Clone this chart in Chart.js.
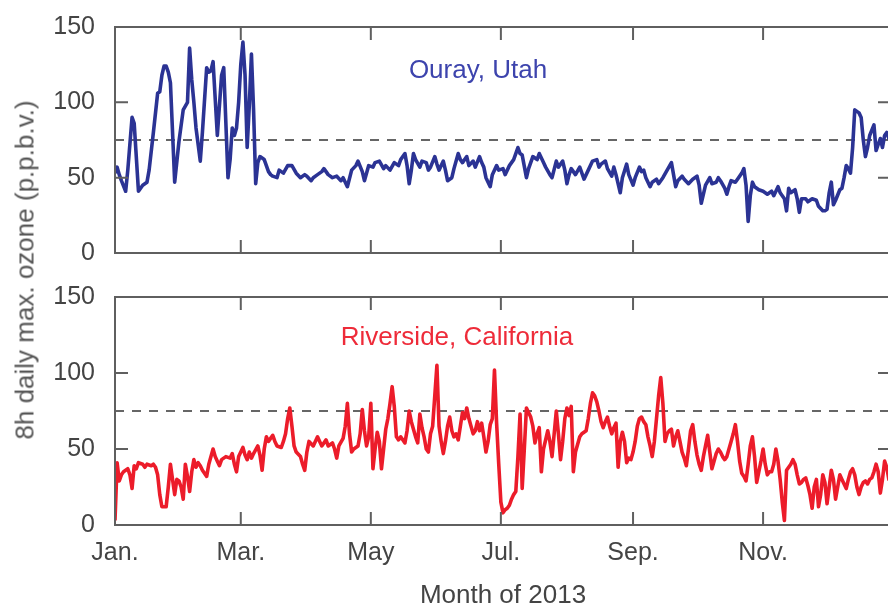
<!DOCTYPE html>
<html>
<head>
<meta charset="utf-8">
<title>8h daily max. ozone, 2013</title>
<script src="https://cdn.jsdelivr.net/npm/chart.js@4.4.1/dist/chart.umd.min.js"></script>
<style>
  html, body { margin: 0; padding: 0; background: #fff; overflow: hidden; width: 888px; height: 609px; }
  #wrap { position: relative; width: 888px; height: 609px; overflow: hidden; }
  canvas { position: absolute; left: 0; }
  #topPanel { top: 0; }
  #bottomPanel { top: 270px; }
  #ytitle {
    position: absolute; left: 25px; top: 270px;
    transform: translate(-50%, -50%) rotate(-90deg);
    white-space: nowrap; font: 26px "Liberation Sans", Arial, sans-serif; color: #555;
  }
</style>
</head>
<body>
<div id="wrap">
  <canvas id="topPanel" width="891" height="280"></canvas>
  <canvas id="bottomPanel" width="891" height="339"></canvas>
  <div id="ytitle">8h daily max. ozone (p.p.b.v.)</div>
</div>
<script>
// Day of year (2013) and 8-hour daily maximum ozone, p.p.b.v.
const ourayDays = [1,2,3,4,6,7,9,10,12,14,16,17,19,21,22,23,24,25,26,27,29,31,33,35,36,37,38,39,41,42,44,45,46,47,49,51,52,54,55,56,57,58,59,60,61,62,63,64,65,66,67,68,69,70,71,72,73,74,75,
  77,78,80,82,84,86,88,90,91,93,94,96,98,99,101,103,105,107,108,110,112,114,115,117,118,120,122,123,125,127,128,130,132,134,135,137,138,139,140,141,142,144,145,147,148,149,151,152,153,155,156,157,159,160,162,163,164,166,167,169,170,172,173,174,175,177,178,180,181,183,184,186,188,190,191,192,194,195,197,199,200,202,203,205,206,208,209,211,212,213,214,215,217,219,221,223,225,227,228,229,231,232,234,235,236,238,239,241,242,244,245,247,248,249,250,252,253,255,256,258,260,262,263,264,265,267,268,270,272,274,275,276,278,280,281,283,284,285,287,288,289,290,292,293,295,296,297,298,299,300,301,303,305,307,309,310,312,313,315,316,317,318,320,321,322,323,325,326,328,330,331,333,334,335,336,337,338,339,341,342,343,344,345,346,347,348,349,350,351,352,353,354,355,357,358,359,360,361,362,363,364,365];
const ourayPpb = [53,57,52,48,41,55,90,86,41,45,47,55,80,106,107,118,124,124,120,113,47,74,95,100,136,115,100,83,61,80,123,120,121,127,78,118,123,50,62,83,78,83,100,125,140,118,70,98,132,95,46,60,64,63,62,58,54,52,51,
  50,55,53,58,58,53,50,52,51,48,50,52,54,56,52,50,51,48,50,44,55,58,61,54,48,58,57,60,61,56,58,55,60,58,62,66,58,46,55,66,62,57,61,60,55,57,64,59,55,61,55,48,50,56,66,62,60,64,58,61,57,64,60,57,50,44,52,58,55,56,52,58,62,70,66,65,50,56,64,62,66,60,57,52,50,61,57,61,55,46,52,56,52,57,49,55,61,62,57,59,61,56,51,57,52,40,50,59,52,45,50,57,54,55,50,44,47,49,46,50,55,60,52,44,48,51,49,46,49,51,45,33,45,50,46,47,50,48,43,39,44,48,47,49,53,56,45,21,38,47,44,42,41,39,41,38,44,40,36,28,43,40,42,36,27,36,36,34,36,35,31,28,28,29,40,47,32,35,42,43,50,58,56,53,70,95,94,93,90,75,64,70,78,85,68,72,76,70,78,80,76,84];

const riversideDays = [1,2,3,4,5,6,7,8,9,10,11,12,14,15,16,18,19,20,21,22,23,25,26,27,28,29,30,31,32,33,34,35,36,37,38,39,40,41,42,44,45,47,48,49,50,51,53,55,56,57,58,59,61,62,63,64,65,66,68,69,70,71,72,73,75,76,77,79,80,81,82,83,84,85,86,88,89,90,91,92,94,96,97,98,100,101,103,104,105,106,108,109,110,111,112,113,115,116,117,118,119,120,121,122,123,124,125,126,127,128,129,130,131,132,133,134,135,137,138,139,140,141,142,143,144,145,146,147,148,149,150,151,152,153,154,155,156,157,158,159,160,161,162,163,164,165,166,167,168,169,170,171,172,173,174,175,176,177,178,179,180,181,182,183,184,185,186,187,188,189,190,191,192,193,194,195,196,197,198,199,200,201,202,204,205,206,207,208,209,210,211,212,213,214,215,216,217,219,220,222,223,224,225,226,227,228,229,230,231,232,233,234,235,236,237,238,239,240,241,242,243,244,245,246,247,248,249,250,251,252,253,254,255,256,257,258,259,260,261,262,263,264,265,266,267,268,269,270,271,272,273,274,275,276,277,278,279,280,281,282,283,284,285,286,287,288,289,290,291,292,293,294,295,296,297,298,299,300,301,302,303,304,305,306,307,308,309,310,311,312,313,314,315,316,317,318,319,320,321,322,323,324,325,326,327,328,329,330,331,332,333,334,335,336,337,338,339,340,341,342,343,344,345,346,347,348,349,350,351,352,353,354,355,356,357,358,359,360,361,362,363,364,365];
const riversidePpb = [3,41,29,33,35,36,37,33,24,39,37,41,40,38,40,39,40,38,33,20,12,12,25,40,30,20,30,29,25,17,40,32,22,35,43,38,41,39,36,32,40,50,45,42,39,43,45,44,47,40,35,45,51,46,43,48,44,47,52,46,36,50,58,55,59,55,52,51,55,60,70,77,65,52,48,45,40,36,48,55,52,58,55,52,56,52,54,50,44,52,57,65,80,60,48,50,52,60,76,62,52,58,80,37,50,61,55,37,50,63,70,80,91,78,58,56,58,54,62,75,68,63,58,54,73,64,58,50,48,60,65,85,105,65,55,47,55,65,71,62,58,60,56,65,74,70,77,70,65,60,62,68,62,67,58,48,55,66,70,102,67,40,15,8,10,11,13,17,20,22,45,73,24,50,77,74,71,65,54,60,64,35,50,62,55,45,60,75,60,43,55,70,77,72,78,35,48,58,60,62,70,80,87,85,81,75,68,64,68,71,65,60,64,67,38,55,61,55,41,44,43,48,55,65,70,71,68,66,58,52,45,55,70,85,97,80,55,60,62,63,52,58,62,55,48,44,39,50,62,66,55,46,40,36,45,52,59,48,37,42,47,50,48,45,43,45,50,55,60,66,55,42,34,32,29,40,52,58,45,28,35,42,50,40,33,35,35,40,50,42,30,15,3,36,38,40,43,40,33,27,28,30,31,26,20,11,25,30,12,20,33,28,14,25,36,30,17,25,33,30,27,24,30,35,37,33,25,20,25,28,29,27,30,31,35,40,35,21,30,42,38,30,35];

// Air-quality standard (8h) drawn as the dashed reference line
const standardPpb = 75;

// X axis: first day of each labelled month
const monthStarts = [1, 60, 121, 182, 244, 305];
const monthLabels = ['Jan.', 'Mar.', 'May', 'Jul.', 'Sep.', 'Nov.'];
const yTicks = [0, 50, 100, 150];

const FONT = '"Liberation Sans", Arial, Helvetica, sans-serif';
Chart.defaults.font.family = FONT;

function pairs(days, vals) {
  return days.map((d, i) => ({ x: d, y: vals[i] }));
}

// Frame, inward tick marks on all four sides, and the site name
const framePlugin = {
  id: 'frame',
  afterDraw(chart, args, opts) {
    const { ctx, chartArea: a, scales } = chart;
    const len = 13;
    ctx.save();
    ctx.strokeStyle = '#5f5f5f';
    ctx.lineWidth = 2;
    ctx.strokeRect(a.left, a.top, a.right - a.left, a.bottom - a.top);
    ctx.beginPath();
    yTicks.forEach(v => {
      const y = scales.y.getPixelForValue(v);
      ctx.moveTo(a.left, y); ctx.lineTo(a.left + len, y);
      ctx.moveTo(a.right, y); ctx.lineTo(a.right - len, y);
    });
    monthStarts.forEach(v => {
      const x = scales.x.getPixelForValue(v);
      ctx.moveTo(x, a.bottom); ctx.lineTo(x, a.bottom - len);
      ctx.moveTo(x, a.top); ctx.lineTo(x, a.top + len);
    });
    ctx.stroke();
    ctx.fillStyle = opts.color;
    ctx.font = '26px ' + FONT;
    ctx.textAlign = 'center';
    ctx.textBaseline = 'alphabetic';
    ctx.fillText(opts.text, opts.x, opts.y);
    ctx.restore();
  }
};

function panel(canvasId, days, vals, lineColor, label, showMonths) {
  const xScale = {
    type: 'linear', min: 1, max: 365,
    grid: { display: false }, border: { display: false },
    afterBuildTicks: s => { s.ticks = monthStarts.map(v => ({ value: v })); },
    ticks: {
      display: showMonths, autoSkip: false, maxRotation: 0, padding: 5,
      color: '#444', font: { size: 25 },
      callback: (v, i) => monthLabels[i]
    },
    title: {
      display: showMonths, text: 'Month of 2013', color: '#444',
      font: { size: 26, lineHeight: 1 }, padding: 0
    },
    afterFit: s => { s.height = showMonths ? 84 : 0; }
  };
  return new Chart(document.getElementById(canvasId), {
    type: 'line',
    data: {
      datasets: [
        { data: pairs(days, vals), borderColor: lineColor, borderWidth: 3.6,
          pointRadius: 0, tension: 0, borderJoinStyle: 'round' },
        { data: [{ x: 1, y: standardPpb }, { x: 365, y: standardPpb }],
          borderColor: '#666', borderWidth: 2, borderDash: [9, 8], pointRadius: 0 }
      ]
    },
    options: {
      responsive: false, animation: false, events: [],
      layout: { padding: { top: 22, left: 0, right: 0, bottom: showMonths ? 0 : 25 } },
      plugins: { legend: { display: false }, tooltip: { enabled: false }, frame: label },
      scales: {
        x: xScale,
        y: {
          min: 0, max: 150,
          grid: { display: false }, border: { display: false },
          afterBuildTicks: s => { s.ticks = yTicks.map(v => ({ value: v })); },
          ticks: { padding: 12, color: '#444', font: { size: 25 } },
          afterFit: s => { s.width = 115; }
        }
      }
    },
    plugins: [framePlugin]
  });
}

panel('topPanel', ourayDays, ourayPpb, '#2b3394',
  { text: 'Ouray, Utah', color: '#3d44ad', x: 478, y: 78 }, false);
panel('bottomPanel', riversideDays, riversidePpb, '#ec1c2a',
  { text: 'Riverside, California', color: '#ee2b39', x: 457, y: 75 }, true);
</script>
</body>
</html>
